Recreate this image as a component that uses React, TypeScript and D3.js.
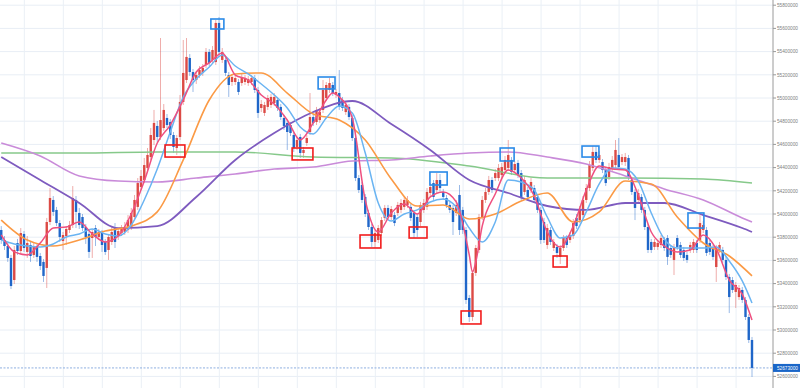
import React from 'react';
import * as d3 from 'd3';

// prices are in thousand yen: [open, high, low, close]
const ohlc: [number, number, number, number][] = [
  [53862, 53896, 53742, 53776], [53776, 53810, 53690, 53724], [53724, 53750, 53587, 53621], [53621, 53647, 53353, 53379],
  [53431, 53724, 53397, 53690], [53750, 53785, 53647, 53681], [53681, 53879, 53656, 53836], [53828, 53853, 53673, 53707],
  [53673, 53810, 53621, 53750], [53733, 53767, 53587, 53638], [53647, 53759, 53621, 53716], [53716, 53742, 53587, 53630],
  [53638, 53664, 53517, 53552], [53587, 53612, 53414, 53466], [53535, 53966, 53362, 53931], [53931, 54224, 53905, 54138],
  [54121, 54155, 53983, 54018], [54035, 54061, 53896, 53922], [53922, 53948, 53759, 53802], [53767, 53845, 53690, 53819],
  [53810, 53896, 53733, 53871], [53862, 53940, 53836, 53905], [53905, 54241, 53879, 54138], [54121, 54155, 53879, 54018],
  [54009, 54052, 53871, 53905], [53974, 54000, 53853, 53879], [53888, 53914, 53742, 53802], [53828, 53853, 53621, 53673],
  [53793, 53871, 53621, 53845], [53879, 53905, 53724, 53802], [53802, 53871, 53776, 53845], [53836, 53862, 53673, 53733],
  [53759, 53785, 53647, 53673], [53690, 53828, 53604, 53802], [53759, 53896, 53733, 53845], [53879, 53922, 53707, 53759],
  [53810, 53879, 53776, 53853], [53836, 53905, 53810, 53879], [53845, 53931, 53819, 53888], [53862, 53991, 53836, 53948],
  [53888, 54052, 53862, 54009], [53974, 54164, 53948, 54121], [54061, 54310, 54035, 54267], [54233, 54379, 54207, 54328],
  [54293, 54483, 54267, 54422], [54397, 54569, 54362, 54509], [54491, 54741, 54466, 54681], [54638, 54897, 54595, 54785],
  [54759, 54802, 54621, 54664], [54664, 55517, 54638, 54810], [54741, 54948, 54716, 54897], [54828, 54862, 54741, 54767],
  [54793, 54819, 54647, 54681], [54681, 54707, 54526, 54578], [54569, 54681, 54509, 54655], [54664, 55026, 54638, 54966],
  [54966, 55500, 54940, 55216], [55155, 55517, 55129, 55354], [55345, 55379, 55190, 55224], [55224, 55250, 55052, 55155],
  [55155, 55224, 55121, 55198], [55198, 55276, 55172, 55241], [55216, 55293, 55190, 55259], [55285, 55431, 55259, 55397],
  [55397, 55422, 55276, 55302], [55328, 55448, 55302, 55414], [55310, 55673, 55285, 55647], [55647, 55698, 55371, 55397],
  [55328, 55431, 55302, 55397], [55328, 55354, 55190, 55216], [55198, 55224, 55009, 55112], [55138, 55207, 55104, 55181],
  [55138, 55198, 55112, 55172], [55138, 55164, 55026, 55052], [55129, 55207, 55104, 55181], [55138, 55198, 55112, 55172],
  [55129, 55190, 55104, 55164], [55138, 55198, 55112, 55172], [55172, 55198, 55043, 55069], [55069, 55095, 54828, 54871],
  [54914, 54983, 54879, 54948], [54871, 54966, 54845, 54940], [54923, 55026, 54897, 55000], [54940, 55035, 54914, 55009],
  [54957, 55043, 54931, 55009], [54983, 55009, 54888, 54914], [54923, 54948, 54810, 54836], [54828, 54854, 54724, 54759],
  [54785, 54810, 54552, 54707], [54767, 54793, 54672, 54698], [54681, 54707, 54535, 54569], [54578, 54664, 54552, 54638],
  [54664, 54690, 54483, 54526], [54526, 54578, 54483, 54552], [54612, 54681, 54586, 54655], [54707, 55043, 54681, 54836],
  [54836, 54862, 54759, 54785], [54793, 54923, 54767, 54897], [54810, 54914, 54785, 54879], [54897, 55155, 54871, 55069],
  [55000, 55138, 54974, 55112], [55069, 55172, 55043, 55129], [55112, 55138, 55017, 55043], [55026, 55078, 55000, 55052],
  [55043, 55241, 54897, 54923], [54983, 55009, 54888, 54914], [54879, 54966, 54854, 54940], [54923, 54948, 54810, 54836],
  [54828, 54854, 54629, 54655], [54655, 54681, 54284, 54310], [54310, 54336, 54181, 54207], [54250, 54276, 54095, 54121],
  [54147, 54172, 53974, 54000], [54009, 54035, 53862, 53888], [53888, 53914, 53716, 53759], [53759, 53862, 53707, 53836],
  [53776, 53905, 53750, 53879], [53836, 53974, 53810, 53948], [53966, 54078, 53940, 54052], [54052, 54078, 53948, 53974],
  [53974, 54069, 53948, 54043], [53991, 54018, 53896, 53922], [54009, 54104, 53983, 54078], [54035, 54129, 54009, 54095],
  [54061, 54155, 54035, 54121], [54078, 54155, 54052, 54121], [54061, 54086, 53940, 53966], [54009, 54035, 53793, 53836],
  [53974, 54000, 53802, 53862], [53931, 54104, 53896, 54078], [54035, 54129, 54009, 54095], [54061, 54224, 54035, 54190],
  [54181, 54267, 54155, 54233], [54267, 54293, 54121, 54147], [54207, 54353, 54181, 54293], [54293, 54345, 54198, 54224],
  [54190, 54216, 54121, 54147], [54138, 54164, 54052, 54078], [54078, 54104, 54009, 54035], [54052, 54078, 53819, 53931],
  [54009, 54121, 53983, 54078], [54164, 54250, 53819, 53862], [54035, 54061, 53828, 53862], [53862, 53888, 53224, 53259],
  [53276, 53302, 53069, 53112], [53112, 53517, 53078, 53492], [53492, 53733, 53466, 53707], [53690, 54000, 53664, 53974],
  [53974, 54155, 53948, 54121], [54121, 54224, 54095, 54190], [54190, 54328, 54164, 54293], [54293, 54319, 54181, 54207],
  [54310, 54388, 54284, 54353], [54310, 54431, 54284, 54397], [54336, 54440, 54310, 54405], [54379, 54500, 54353, 54466],
  [54397, 54638, 54371, 54509], [54466, 54491, 54336, 54362], [54379, 54457, 54353, 54431], [54440, 54466, 54310, 54336],
  [54353, 54379, 54121, 54147], [54190, 54328, 54164, 54293], [54207, 54233, 54121, 54147], [54207, 54310, 54181, 54276],
  [54224, 54250, 54095, 54121], [54147, 54172, 54009, 54035], [54035, 54061, 53742, 53776], [53931, 53966, 53750, 53776],
  [53733, 53914, 53699, 53879], [53862, 53888, 53733, 53759], [53707, 53785, 53681, 53759], [53716, 53742, 53621, 53664],
  [53630, 53733, 53569, 53707], [53707, 53819, 53681, 53793], [53793, 53819, 53707, 53733], [53776, 53845, 53750, 53819],
  [53810, 53957, 53785, 53922], [53966, 54000, 53871, 53896], [53948, 54069, 53922, 54035], [53991, 54155, 53966, 54121],
  [54121, 54259, 54095, 54224], [54224, 54457, 54198, 54422], [54397, 54586, 54371, 54535], [54535, 54586, 54440, 54466],
  [54466, 54543, 54440, 54509], [54448, 54474, 54353, 54379], [54379, 54405, 54241, 54267], [54319, 54440, 54293, 54405],
  [54397, 54500, 54371, 54466], [54422, 54638, 54397, 54552], [54509, 54655, 54379, 54405], [54448, 54517, 54422, 54491],
  [54448, 54526, 54414, 54491], [54483, 54509, 54293, 54319], [54293, 54319, 54164, 54190], [54190, 54216, 53948, 54052],
  [54121, 54216, 54095, 54181], [54147, 54172, 54009, 54035], [54035, 54061, 53862, 53888], [53888, 53914, 53664, 53690],
  [53759, 53785, 53664, 53690], [53716, 53785, 53690, 53759], [53716, 53776, 53690, 53750], [53733, 53819, 53707, 53793],
  [53776, 53802, 53681, 53707], [53793, 53819, 53561, 53630], [53707, 53733, 53621, 53647], [53604, 53742, 53474, 53716],
  [53793, 53819, 53690, 53716], [53733, 53759, 53621, 53647], [53690, 53716, 53595, 53621], [53647, 53673, 53578, 53604],
  [53690, 53759, 53664, 53733], [53690, 53785, 53664, 53759], [53750, 53776, 53664, 53690], [53776, 53991, 53750, 53922],
  [53862, 53940, 53836, 53905], [53862, 53888, 53638, 53664], [53750, 53776, 53647, 53673], [53707, 53733, 53604, 53630],
  [53543, 53733, 53414, 53707], [53690, 53759, 53664, 53733], [53690, 53716, 53578, 53604], [53604, 53630, 53431, 53457],
  [53457, 53483, 53146, 53284], [53431, 53457, 53319, 53345], [53328, 53414, 53190, 53388], [53284, 53388, 53259, 53362],
  [53345, 53371, 53233, 53259], [53259, 53284, 53086, 53112], [53112, 53138, 52888, 52914], [52914, 52940, 52595, 52673],
];

// moving averages: [candle index, price]
const maShort: [number, number][] = [
  [0, 53819], [4, 53673], [8, 53647], [12, 53750], [16, 53879], [20, 53888], [24, 53931], [28, 53828],
  [32, 53759], [36, 53810], [40, 54000], [44, 54284], [48, 54612], [52, 54767], [56, 54983], [60, 55224],
  [64, 55302], [68, 55388], [72, 55198], [76, 55155], [80, 55026], [84, 54948], [88, 54810], [92, 54638],
  [96, 54785], [100, 54983], [102, 55043], [104, 55009], [108, 54828], [112, 54121], [116, 53845], [120, 54009],
  [124, 54086], [128, 54000], [132, 54147], [136, 54190], [140, 54104], [144, 53647], [145, 53500], [146, 53586],
  [148, 53897], [152, 54172], [156, 54379], [160, 54310], [164, 54155], [168, 53845], [172, 53716], [176, 53896],
  [180, 54207], [184, 54414], [188, 54388], [192, 54379], [196, 54164], [200, 53845], [204, 53724], [208, 53673],
  [212, 53690], [216, 53819], [220, 53699], [224, 53431], [228, 53310], [231, 53086],
];
const maMid: [number, number][] = [
  [0, 53776], [4, 53742], [8, 53724], [12, 53716], [16, 53742], [20, 53802], [24, 53828], [28, 53871],
  [32, 53828], [36, 53810], [40, 53905], [44, 54121], [48, 54388], [52, 54707], [56, 55009], [60, 55164],
  [64, 55267], [68, 55371], [72, 55276], [76, 55207], [80, 55121], [84, 55026], [88, 54914], [92, 54750],
  [96, 54690], [100, 54828], [104, 54931], [108, 54871], [112, 54526], [116, 54095], [120, 53940], [124, 54000],
  [128, 54035], [132, 54104], [136, 54129], [140, 54061], [144, 53879], [148, 53759], [152, 53931], [156, 54293],
  [160, 54276], [164, 54207], [168, 53974], [172, 53793], [176, 53819], [180, 54018], [184, 54259], [188, 54397],
  [192, 54388], [196, 54284], [200, 54009], [204, 53785], [208, 53707], [212, 53707], [216, 53707], [220, 53716],
  [224, 53595], [228, 53423], [231, 53233],
];
const maLong: [number, number][] = [
  [0, 53948], [8, 53776], [16, 53724], [24, 53776], [32, 53853], [40, 53896], [48, 54018], [56, 54466],
  [64, 54983], [72, 55207], [80, 55216], [88, 55043], [96, 54862], [104, 54810], [112, 54638], [120, 54302],
  [128, 54069], [136, 54078], [144, 53957], [152, 54000], [160, 54112], [168, 54181], [176, 53931], [184, 54018],
  [192, 54284], [200, 54259], [208, 53974], [216, 53750], [224, 53638], [231, 53466],
];
const ma75: [number, number][] = [
  [0, 54491], [12, 54293], [24, 54095], [36, 53879], [48, 53896], [60, 54147], [72, 54466], [84, 54698],
  [96, 54879], [108, 54974], [120, 54776], [132, 54552], [144, 54293], [156, 54181], [168, 54069], [180, 54035],
  [192, 54095], [204, 54095], [216, 53991], [228, 53879], [231, 53845],
];
const ma100: [number, number][] = [
  [0, 54612], [12, 54500], [24, 54328], [36, 54284], [48, 54276], [60, 54310], [72, 54345], [84, 54388],
  [96, 54405], [108, 54457], [120, 54466], [132, 54500], [144, 54526], [156, 54535], [168, 54491], [180, 54431],
  [192, 54328], [204, 54216], [216, 54121], [228, 53966], [231, 53931],
];
const ma200: [number, number][] = [
  [0, 54526], [24, 54526], [48, 54535], [72, 54535], [96, 54491], [120, 54483], [144, 54414], [168, 54310],
  [192, 54310], [216, 54302], [231, 54267],
];

// highlighted swing points: [from index, to index, top price, bottom price, kind]
const boxes: [number, number, number, number, string][] = [
  [50.4, 56.5, 54595, 54491, 'low'], [64.5, 68.5, 55681, 55595, 'high'], [89.5, 95.9, 54569, 54466, 'low'],
  [97.5, 102.7, 55181, 55078, 'high'], [110.4, 116.8, 53819, 53707, 'low'], [125.5, 131.0, 53888, 53793, 'low'],
  [131.9, 137.2, 54362, 54250, 'high'], [141.5, 147.6, 53164, 53052, 'low'], [153.5, 157.8, 54569, 54457, 'high'],
  [169.8, 174.1, 53638, 53543, 'low'], [178.7, 183.9, 54586, 54491, 'high'], [211.3, 216.2, 54009, 53879, 'high'],
];

const yTicks = [52600, 52800, 53000, 53200, 53400, 53600, 53800, 54000, 54200, 54400, 54600, 54800, 55000, 55200, 55400, 55600, 55800];
const gridIdx = [7, 19, 31, 43, 55, 67, 79, 91, 103, 115, 130, 142, 154, 166, 178, 190, 202, 214, 226];
const lastPrice = 52673;

const W = 800;
const H = 388;
const axisX = 773;

const UP = '#dc4a45';
const DOWN = '#1f66c9';
const labelFont = 'Liberation Sans, Arial, sans-serif';

export default function App() {
  const x = d3.scaleLinear().domain([0, ohlc.length - 1]).range([1.25, 752]);
  const y = d3.scaleLinear().domain([52600, 55800]).range([376.4, 5.2]);
  const fmt = d3.format('d');

  const line = d3.line<[number, number]>()
    .x(d => x(d[0]))
    .y(d => y(d[1]))
    .curve(d3.curveMonotoneX);

  const lines: [[number, number][], string, number][] = [
    [ma200, '#86c98a', 1.4],
    [ma100, '#c98bd9', 1.6],
    [ma75, '#7e5bbf', 1.8],
    [maLong, '#fb9a45', 1.6],
    [maMid, '#6ab4f2', 1.5],
    [maShort, '#ef5080', 1.5],
  ];

  const bw = 2.4;

  return (
    <div>
      <style>{'body{margin:0}'}</style>
      <svg width={W} height={H} style={{ display: 'block', background: '#fff' }}>
        <defs>
          <clipPath id="plot">
            <rect x={0} y={0} width={axisX} height={H} />
          </clipPath>
        </defs>

        {/* grid */}
        <g>
          {yTicks.map(t => (
            <line key={t} x1={0} x2={axisX} y1={y(t)} y2={y(t)} stroke="#e8eef5" strokeWidth={1} />
          ))}
          {gridIdx.map(g => (
            <line key={g} x1={x(g + 0.1)} x2={x(g + 0.1)} y1={0} y2={H} stroke="#eaf0f6" strokeWidth={1} />
          ))}
        </g>

        {/* last price line */}
        <line x1={0} x2={axisX} y1={y(lastPrice)} y2={y(lastPrice)} stroke="#8fb0e0" strokeWidth={1} strokeDasharray="2,1.5" />

        <g clipPath="url(#plot)">
          {/* candles */}
          {ohlc.map(([o, h, l, c], i) => {
            const col = c >= o ? UP : DOWN;
            const top = y(Math.max(o, c));
            const bot = y(Math.min(o, c));
            return (
              <g key={i}>
                <line x1={x(i)} x2={x(i)} y1={y(h)} y2={y(l)} stroke={col} strokeOpacity={0.45} strokeWidth={1} />
                <rect x={x(i) - bw / 2} y={top} width={bw} height={Math.max(1, bot - top)} fill={col} />
              </g>
            );
          })}

          {/* moving averages */}
          {lines.map(([pts, col, sw], k) => (
            <path key={k} d={line(pts) || ''} fill="none" stroke={col} strokeWidth={sw} strokeLinejoin="round" />
          ))}

          {/* swing boxes */}
          {boxes.map(([a, b, hi, lo, kind], k) => (
            <rect
              key={k}
              x={x(a)}
              y={y(hi)}
              width={x(b) - x(a)}
              height={y(lo) - y(hi)}
              fill="none"
              stroke={kind === 'low' ? '#f21d1d' : '#2a8ae8'}
              strokeWidth={1.6}
            />
          ))}
        </g>

        {/* right axis */}
        <line x1={axisX} x2={axisX} y1={0} y2={H} stroke="#9a9a9a" strokeWidth={1} />
        {yTicks.map(t => (
          <g key={t}>
            <line x1={axisX} x2={axisX + 3} y1={y(t)} y2={y(t)} stroke="#9a9a9a" strokeWidth={1} />
            <text
              x={axisX + 4}
              y={y(t)}
              dy="0.35em"
              fontSize={5.2}
              textLength={21}
              lengthAdjust="spacingAndGlyphs"
              fontFamily={labelFont}
              fill="#808080"
            >
              {fmt(t * 1000)}
            </text>
          </g>
        ))}
        <rect x={axisX} y={y(lastPrice) - 4} width={W - axisX} height={8} fill="#1a66c8" />
        <text
          x={axisX + 4}
          y={y(lastPrice)}
          dy="0.35em"
          fontSize={5.2}
          textLength={21}
          lengthAdjust="spacingAndGlyphs"
          fontFamily={labelFont}
          fill="#fff"
        >
          {fmt(lastPrice * 1000)}
        </text>
      </svg>
    </div>
  );
}
